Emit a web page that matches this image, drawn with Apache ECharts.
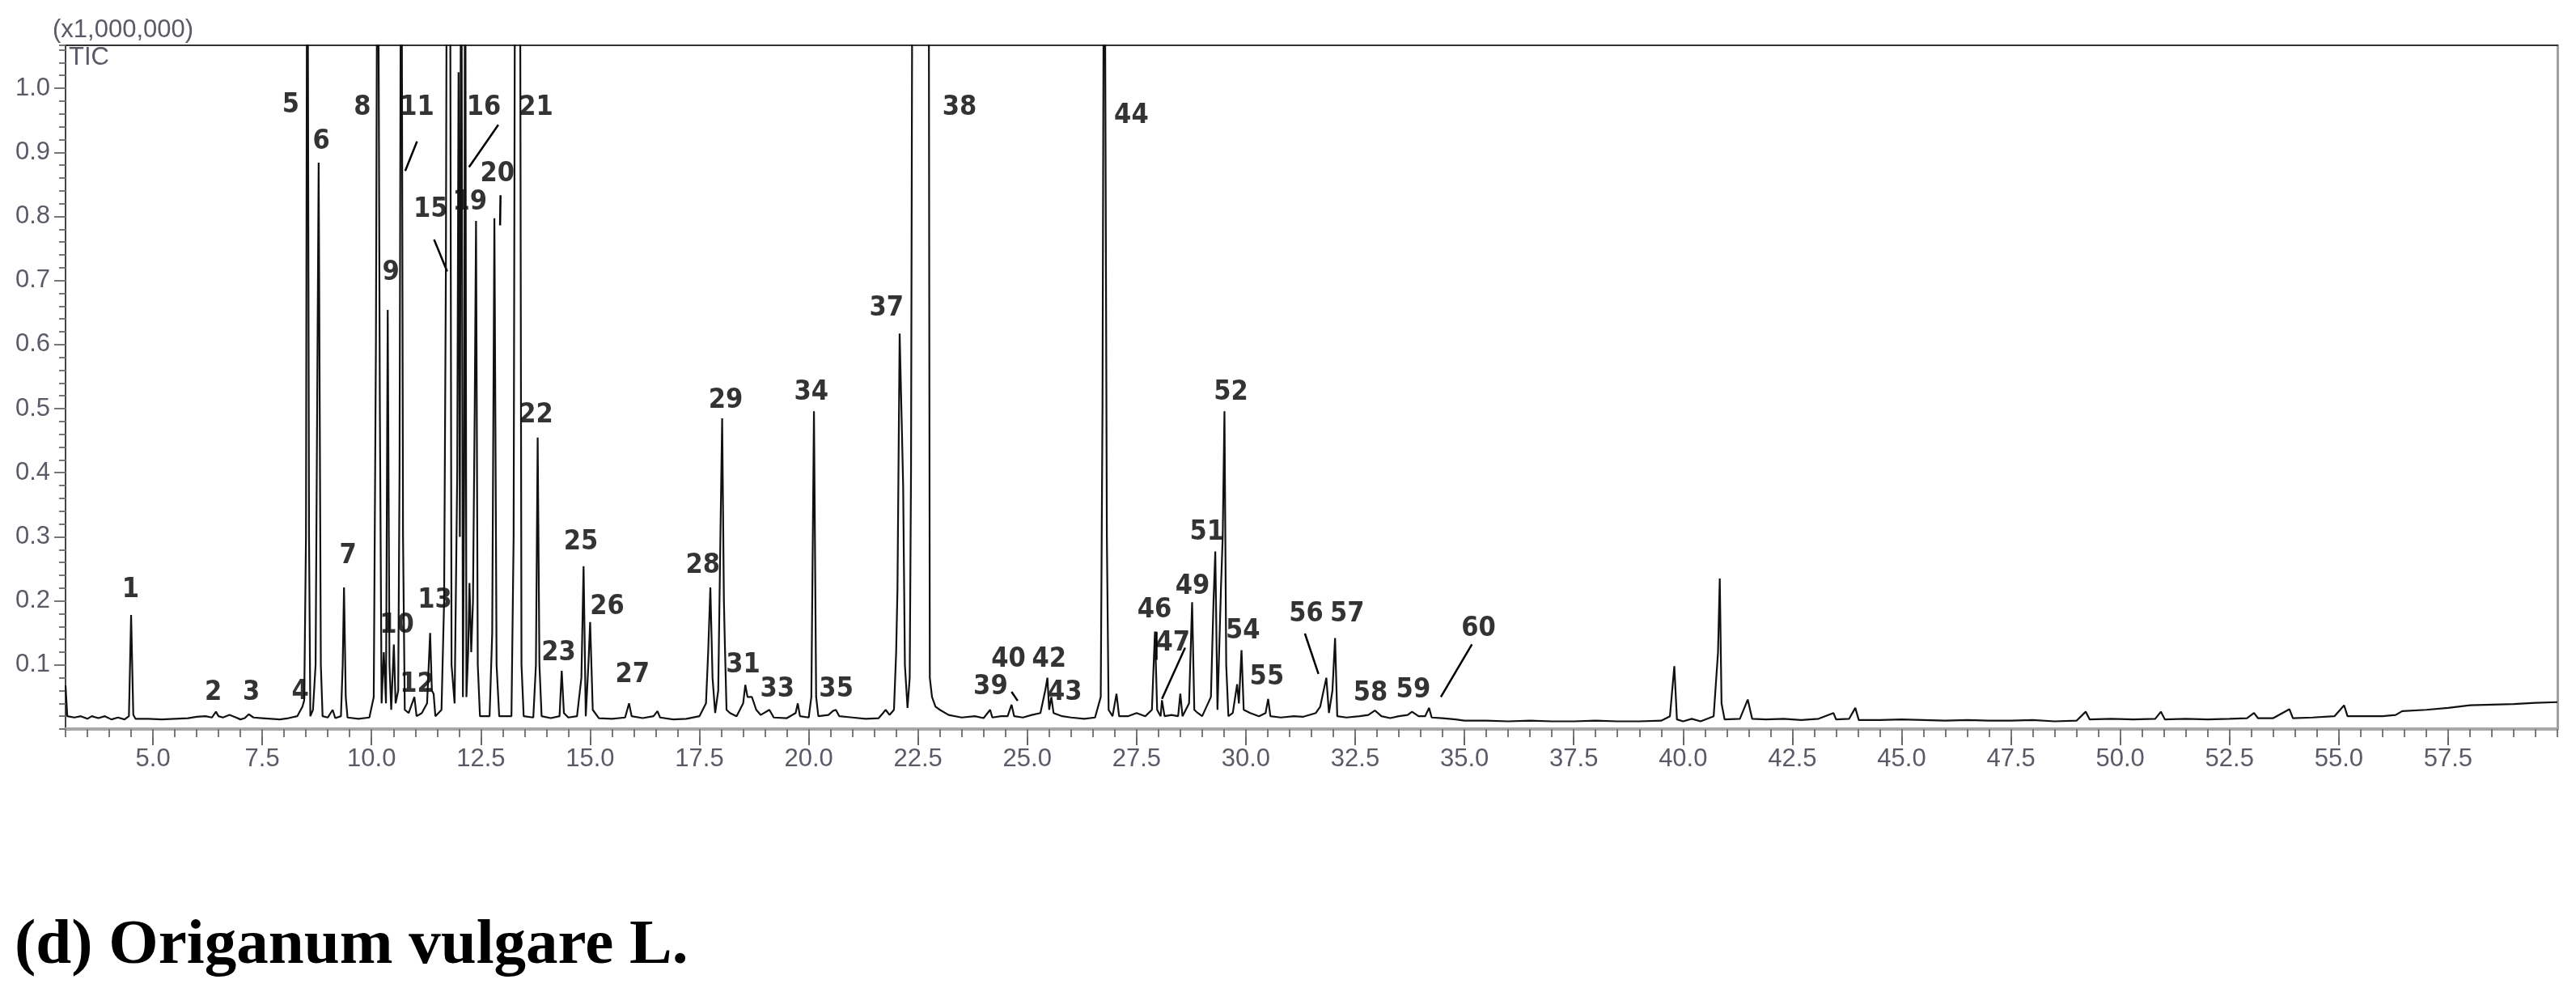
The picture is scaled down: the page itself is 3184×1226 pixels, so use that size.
<!DOCTYPE html>
<html>
<head>
<meta charset="utf-8">
<title>TIC - Origanum vulgare L.</title>
<script src="https://cdn.jsdelivr.net/npm/echarts@6.0.0/dist/echarts.min.js"></script>
<style>
    html, body { margin: 0; padding: 0; background: #fff; }
    #main { width: 3184px; height: 1226px; }
</style>
</head>
<body>
<div id="main"></div>
<script>
// retention time (min) / TIC (x1,000,000)
// values above the axis max (1.5) are off-scale peaks, clipped at the frame
var ticEarly = [
    [3.0, 0.068], [3.04, 0.02], [3.2, 0.018], [3.35, 0.02], [3.5, 0.016], [3.6, 0.02], [3.75, 0.017],
    [3.9, 0.02], [4.05, 0.015], [4.2, 0.018], [4.35, 0.015], [4.45, 0.02], [4.5, 0.178], [4.55, 0.022],
    [4.6, 0.016], [4.9, 0.016], [5.2, 0.015], [5.5, 0.016], [5.8, 0.017], [6.0, 0.019], [6.2, 0.02],
    [6.35, 0.018], [6.44, 0.027], [6.5, 0.02], [6.6, 0.018], [6.75, 0.022], [6.9, 0.018], [7.0, 0.015],
    [7.1, 0.017], [7.19, 0.023], [7.3, 0.018], [7.5, 0.017], [7.7, 0.016], [7.9, 0.015], [8.1, 0.017],
    [8.3, 0.02], [8.42, 0.035]
];
var ticTerpenes = [
    [8.46, 0.045], [8.5, 0.3], [8.53, 1.5], [8.57, 0.3], [8.6, 0.02], [8.66, 0.03], [8.72, 0.1],
    [8.79, 0.884], [8.84, 0.1], [8.88, 0.02], [9.0, 0.018], [9.11, 0.03], [9.17, 0.017], [9.3, 0.02],
    [9.34, 0.1], [9.37, 0.221], [9.41, 0.05], [9.45, 0.018], [9.7, 0.016], [9.95, 0.018], [10.05, 0.05],
    [10.1, 0.6], [10.14, 1.5], [10.19, 0.5], [10.23, 0.04], [10.28, 0.12], [10.33, 0.04], [10.37, 0.654],
    [10.41, 0.1], [10.45, 0.03], [10.51, 0.132], [10.55, 0.04], [10.61, 0.06], [10.64, 0.4], [10.68, 1.5],
    [10.72, 0.3], [10.76, 0.03], [10.85, 0.025], [10.98, 0.05], [11.03, 0.02], [11.15, 0.025], [11.27, 0.04],
    [11.34, 0.15], [11.38, 0.06], [11.42, 0.055], [11.46, 0.02], [11.6, 0.03], [11.66, 0.2], [11.7, 0.71],
    [11.73, 1.5], [11.79, 1.5], [11.83, 0.1], [11.9, 0.04], [11.96, 0.4], [11.99, 1.025], [12.02, 0.3],
    [12.05, 1.5], [12.09, 0.05], [12.12, 0.4], [12.14, 1.5], [12.17, 0.05], [12.21, 0.12], [12.24, 0.228],
    [12.28, 0.12], [12.32, 0.2], [12.36, 0.5], [12.39, 0.793], [12.43, 0.1], [12.48, 0.02], [12.7, 0.02],
    [12.76, 0.15], [12.81, 0.797], [12.86, 0.1], [12.92, 0.02], [13.2, 0.02], [13.25, 0.3], [13.29, 1.5],
    [13.39, 1.5], [13.43, 0.1], [13.48, 0.02], [13.7, 0.018], [13.76, 0.1], [13.8, 0.455], [13.84, 0.1],
    [13.89, 0.02]
];
var ticMid = [
    [14.1, 0.017], [14.3, 0.02], [14.35, 0.091], [14.4, 0.025], [14.5, 0.018], [14.7, 0.02], [14.8, 0.08],
    [14.85, 0.254], [14.9, 0.02], [14.96, 0.1], [15.0, 0.167], [15.06, 0.03], [15.2, 0.017], [15.5, 0.016],
    [15.8, 0.018], [15.89, 0.04], [15.95, 0.02], [16.2, 0.017], [16.45, 0.02], [16.54, 0.028], [16.6, 0.018],
    [16.9, 0.015], [17.2, 0.016], [17.5, 0.02], [17.65, 0.04], [17.7, 0.12], [17.75, 0.221], [17.8, 0.08],
    [17.86, 0.025], [17.93, 0.06], [17.98, 0.3], [18.02, 0.485], [18.06, 0.2], [18.08, 0.138], [18.12, 0.03],
    [18.2, 0.025], [18.35, 0.02], [18.5, 0.04], [18.55, 0.069], [18.6, 0.05], [18.7, 0.05], [18.8, 0.03],
    [18.9, 0.022], [19.1, 0.03], [19.2, 0.018], [19.5, 0.017], [19.7, 0.025], [19.75, 0.04], [19.8, 0.02],
    [20.0, 0.018], [20.06, 0.05], [20.12, 0.496], [20.17, 0.05], [20.22, 0.02], [20.45, 0.022], [20.55, 0.028],
    [20.62, 0.03], [20.7, 0.02], [21.0, 0.018], [21.3, 0.016], [21.6, 0.017], [21.7, 0.025], [21.76, 0.03],
    [21.85, 0.022], [21.95, 0.03], [22.0, 0.12], [22.03, 0.218], [22.08, 0.617], [22.12, 0.5], [22.16, 0.38],
    [22.2, 0.1], [22.26, 0.033]
];
var ticLate = [
    [22.31, 0.08], [22.34, 0.4], [22.38, 1.5], [22.74, 1.5], [22.77, 0.08], [22.82, 0.05], [22.9, 0.035],
    [23.0, 0.03], [23.2, 0.022], [23.5, 0.018], [23.8, 0.02], [24.0, 0.017], [24.15, 0.03], [24.2, 0.018],
    [24.4, 0.02], [24.55, 0.02], [24.64, 0.038], [24.7, 0.02], [24.9, 0.018], [25.1, 0.022], [25.3, 0.025],
    [25.41, 0.06], [25.46, 0.08], [25.5, 0.03], [25.55, 0.05], [25.6, 0.025], [25.8, 0.02], [26.0, 0.018],
    [26.3, 0.016], [26.55, 0.018], [26.68, 0.05], [26.72, 0.5], [26.76, 1.5], [26.79, 1.5], [26.82, 0.3],
    [26.86, 0.03], [26.95, 0.02], [27.04, 0.055], [27.1, 0.02], [27.3, 0.02], [27.5, 0.025], [27.7, 0.02],
    [27.85, 0.03], [27.92, 0.152], [27.97, 0.03], [28.05, 0.02], [28.08, 0.045], [28.14, 0.02], [28.3, 0.022],
    [28.45, 0.02], [28.5, 0.055], [28.55, 0.02], [28.7, 0.04], [28.77, 0.198], [28.82, 0.03], [28.9, 0.025],
    [29.0, 0.02], [29.2, 0.05], [29.26, 0.2], [29.3, 0.277], [29.35, 0.03], [29.43, 0.22], [29.47, 0.3],
    [29.51, 0.496], [29.55, 0.1], [29.6, 0.02], [29.7, 0.025], [29.8, 0.07], [29.84, 0.04], [29.9, 0.123],
    [29.95, 0.03], [30.1, 0.025], [30.3, 0.02], [30.45, 0.025], [30.51, 0.047], [30.56, 0.02], [30.8, 0.018],
    [31.1, 0.02], [31.3, 0.019], [31.6, 0.025], [31.7, 0.035], [31.84, 0.08], [31.9, 0.025], [31.98, 0.06],
    [32.04, 0.142], [32.09, 0.02], [32.3, 0.018]
];
var ticTail = [
    [32.6, 0.02], [32.8, 0.022], [32.95, 0.029], [33.1, 0.02], [33.3, 0.017], [33.5, 0.02], [33.7, 0.022],
    [33.8, 0.027], [33.95, 0.02], [34.1, 0.02], [34.19, 0.033], [34.25, 0.018], [34.5, 0.017], [34.8, 0.015],
    [35.0, 0.013], [35.5, 0.013], [36.0, 0.012], [36.5, 0.013], [37.0, 0.012], [37.5, 0.012], [38.0, 0.013],
    [38.5, 0.012], [39.0, 0.012], [39.5, 0.013], [39.7, 0.02], [39.8, 0.098], [39.86, 0.015], [40.0, 0.012],
    [40.2, 0.016], [40.4, 0.012], [40.7, 0.02], [40.8, 0.12], [40.84, 0.235], [40.88, 0.04], [40.95, 0.015],
    [41.3, 0.016], [41.48, 0.046], [41.58, 0.016], [41.9, 0.015], [42.3, 0.016], [42.7, 0.014], [43.1, 0.016],
    [43.44, 0.025], [43.5, 0.015], [43.8, 0.016], [43.94, 0.033], [44.02, 0.014], [44.5, 0.014], [45.0, 0.015],
    [45.5, 0.014], [46.0, 0.013], [46.5, 0.014], [47.0, 0.013], [47.5, 0.013], [48.0, 0.014], [48.5, 0.012],
    [49.0, 0.013], [49.21, 0.027], [49.3, 0.015], [49.8, 0.016], [50.3, 0.015], [50.8, 0.016], [50.93, 0.027],
    [51.02, 0.015], [51.5, 0.016], [52.0, 0.015], [52.5, 0.016], [52.9, 0.017], [53.06, 0.025], [53.15, 0.017],
    [53.5, 0.017], [53.87, 0.031], [53.95, 0.017], [54.4, 0.018], [54.9, 0.02], [55.12, 0.037], [55.2, 0.02],
    [55.6, 0.02], [56.0, 0.02], [56.3, 0.022], [56.45, 0.028], [57.0, 0.03], [57.5, 0.033], [58.0, 0.037],
    [58.5, 0.038], [59.0, 0.039], [59.5, 0.041], [60.0, 0.042]
];

// peak numbers and where their labels sit (rt, TIC)
var labelNo = ['1', '2', '3', '4', '5', '6', '7', '8', '9', '10', '11', '12', '13', '15', '16', '19', '20', '21', '22', '23',
    '25', '26', '27', '28', '29', '31', '33', '34', '35', '37', '38', '39', '40', '42', '43', '44', '46', '47', '49', '51',
    '52', '54', '55', '56', '57', '58', '59', '60'];
var labelRt = [4.49, 6.38, 7.25, 8.37, 8.15, 8.85, 9.46, 9.79, 10.44, 10.58, 11.04, 11.04, 11.45, 11.35, 12.57, 12.25,
    12.88, 13.76, 13.76, 14.28, 14.79, 15.39, 15.97, 17.58, 18.10, 18.50, 19.28, 20.06, 20.63, 21.78, 23.45, 24.16,
    24.57, 25.50, 25.86, 27.38, 27.91, 28.33, 28.78, 29.11, 29.66, 29.93, 30.48, 31.38, 32.32, 32.85, 33.83, 35.32];
var labelTic = [0.217, 0.056, 0.056, 0.058, 0.973, 0.917, 0.270, 0.970, 0.712, 0.162, 0.970, 0.069, 0.200, 0.810,
    0.970, 0.822, 0.866, 0.970, 0.490, 0.118, 0.292, 0.190, 0.084, 0.255, 0.513, 0.099, 0.062, 0.525, 0.062, 0.657,
    0.970, 0.066, 0.109, 0.108, 0.057, 0.957, 0.185, 0.134, 0.222, 0.306, 0.525, 0.153, 0.081, 0.179, 0.179, 0.055,
    0.060, 0.156];

// short leader strokes from a label to its peak
var leaderLines = [
    [[11.04, 0.917], [10.77, 0.871]],
    [[11.43, 0.764], [11.73, 0.714]],
    [[12.90, 0.943], [12.23, 0.877]],
    [[12.95, 0.833], [12.94, 0.786]],
    [[24.64, 0.058], [24.78, 0.044]],
    [[27.96, 0.152], [27.96, 0.108]],
    [[28.61, 0.127], [28.08, 0.047]],
    [[31.35, 0.149], [31.66, 0.086]],
    [[35.17, 0.132], [34.46, 0.050]]
];

var xTickLabels = [5.0, 7.5, 10.0, 12.5, 15.0, 17.5, 20.0, 22.5, 25.0, 27.5, 30.0, 32.5, 35.0, 37.5, 40.0, 42.5,
    45.0, 47.5, 50.0, 52.5, 55.0, 57.5];
var yTickLabels = [0.1, 0.2, 0.3, 0.4, 0.5, 0.6, 0.7, 0.8, 0.9, 1.0];

document.addEventListener('DOMContentLoaded', function () {
    drawChromatogram();
});

function drawChromatogram() {
    var trace = ticEarly.concat(ticTerpenes, ticMid, ticLate, ticTail);

    var labelData = [];
    for (var i = 0; i < labelNo.length; i++) {
        labelData.push({ name: labelNo[i], value: [labelRt[i], labelTic[i]] });
    }
    var leaderData = leaderLines.map(function (c) { return { coords: c }; });

    var axisFont = "'Liberation Sans Narrow', 'Liberation Sans', Arial, sans-serif";
    var axisGray = '#5a5a66';

    var chart = echarts.init(document.getElementById('main'), null, { renderer: 'canvas' });
    var option = {
        animation: false,
        backgroundColor: '#fff',
        title: {
            text: '(d) Origanum vulgare L.',
            left: 18,
            top: 1130,
            padding: 0,
            textStyle: {
                fontFamily: "'Liberation Serif', 'Times New Roman', serif",
                fontWeight: 'bold',
                fontSize: 79,
                color: '#000'
            }
        },
        graphic: [
            {
                type: 'text', left: 65, top: 22,
                style: { text: '(x1,000,000)', font: '31px ' + axisFont, fill: axisGray }
            },
            {
                type: 'text', left: 85, top: 56,
                style: { text: 'TIC', font: '31px ' + axisFont, fill: axisGray }
            }
        ],
        grid: {
            left: 81,
            right: 23,
            top: 56,
            bottom: 325,
            show: false
        },
        xAxis: [
            {
                type: 'value', min: 3, max: 60, position: 'bottom',
                axisLine: { show: true, onZero: false, lineStyle: { color: '#a8a8a8', width: 4 } },
                axisTick: { show: true, customValues: xTickLabels, length: 20, lineStyle: { color: '#666', width: 2 } },
                axisLabel: {
                    show: true, customValues: xTickLabels, margin: 22,
                    formatter: function (v) { return v.toFixed(1); },
                    fontFamily: axisFont, fontSize: 31, color: axisGray
                },
                splitLine: { show: false }
            },
            {
                type: 'value', min: 3, max: 60, interval: 0.5, position: 'bottom',
                axisLine: { show: false },
                axisTick: { show: true, length: 10, lineStyle: { color: '#777', width: 2 } },
                axisLabel: { show: false },
                splitLine: { show: false }
            },
            {
                type: 'value', min: 3, max: 60, position: 'top',
                axisLine: { show: true, onZero: false, lineStyle: { color: '#333', width: 2 } },
                axisTick: { show: false },
                axisLabel: { show: false },
                splitLine: { show: false }
            }
        ],
        yAxis: [
            {
                type: 'value', min: 0, max: 1.067, position: 'left',
                axisLine: { show: true, onZero: false, lineStyle: { color: '#444', width: 2 } },
                axisTick: { show: true, customValues: yTickLabels, length: 14, lineStyle: { color: '#777', width: 2 } },
                axisLabel: {
                    show: true, customValues: yTickLabels, margin: 19,
                    formatter: function (v) { return v.toFixed(1); },
                    fontFamily: axisFont, fontSize: 31, color: axisGray
                },
                splitLine: { show: false }
            },
            {
                type: 'value', min: 0, max: 1.067, interval: 0.02, position: 'left',
                axisLine: { show: false },
                axisTick: { show: true, length: 8, lineStyle: { color: '#777', width: 2 } },
                axisLabel: { show: false },
                splitLine: { show: false }
            },
            {
                type: 'value', min: 0, max: 1.067, position: 'right',
                axisLine: { show: true, onZero: false, lineStyle: { color: '#a0a0a0', width: 3 } },
                axisTick: { show: false },
                axisLabel: { show: false },
                splitLine: { show: false }
            }
        ],
        series: [
            {
                name: 'TIC',
                type: 'line',
                xAxisIndex: 0,
                yAxisIndex: 0,
                data: trace,
                showSymbol: false,
                clip: true,
                lineStyle: { color: '#111', width: 2.2 }
            },
            {
                name: 'leaders',
                type: 'lines',
                coordinateSystem: 'cartesian2d',
                xAxisIndex: 0,
                yAxisIndex: 0,
                data: leaderData,
                lineStyle: { color: '#000', width: 2.5, opacity: 1 }
            },
            {
                name: 'peak no.',
                type: 'scatter',
                xAxisIndex: 0,
                yAxisIndex: 0,
                data: labelData,
                symbolSize: 0,
                label: {
                    show: true,
                    position: 'inside',
                    formatter: '{b}',
                    fontFamily: "'DejaVu Sans Condensed', 'DejaVu Sans', sans-serif",
                    fontWeight: 'bold',
                    fontSize: 34,
                    color: '#000'
                }
            }
        ]
    };
    chart.setOption(option);
}
</script>
</body>
</html>
